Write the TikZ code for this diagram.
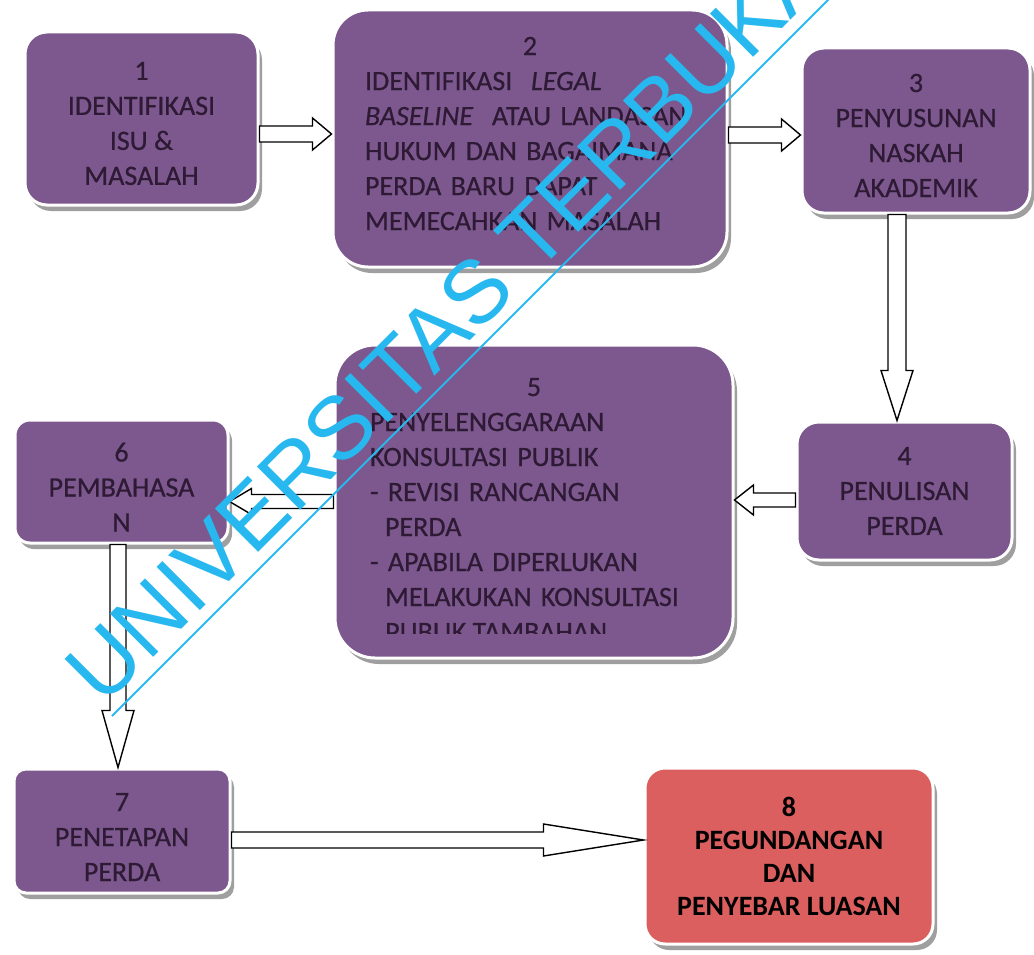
\documentclass[tikz,border=0pt]{standalone}
\usepackage{fontspec}
\setmainfont{Carlito}
\newfontfamily\boxfont{Carlito}[FakeBold=0.6]
\newfontfamily\wmfont{Liberation Sans}
\usetikzlibrary{calc,shadows}

\definecolor{plum}{RGB}{124,88,142}
\definecolor{rose}{RGB}{220,95,95}
\definecolor{ink}{RGB}{46,26,52}
\definecolor{sky}{RGB}{40,184,240}

\newcommand{\blockarr}[5]{%
  \coordinate (hb) at ($(#2)!#5!(#1)$);
  \draw[blk] ($(#1)!#3!90:(#2)$) -- ($(hb)!#3!90:(#2)$) -- ($(hb)!#4!90:(#2)$) -- (#2)
    -- ($(hb)!#4!-90:(#2)$) -- ($(hb)!#3!-90:(#2)$) -- ($(#1)!#3!-90:(#2)$) -- cycle;}

\begin{document}
\begin{tikzpicture}[x=1pt, y=-1pt,
  box/.style = {rectangle,draw=white,line width=3pt,fill=plum,text=ink,align=center,inner sep=0pt,
                font=\boxfont\fontsize{28}{35}\selectfont,
                drop shadow={shadow xshift=4pt,shadow yshift=-6pt,fill=black!75}},
  blk/.style = {draw=black,fill=white,line width=1.4pt,line join=miter},
  wm/.style = {text=sky,font=\wmfont\fontsize{89}{89}\selectfont,inner sep=0pt}]
\useasboundingbox (0,0) rectangle (1034,955);
\clip (0,0) rectangle (1034,955);
\node[box,rounded corners=22pt,minimum width=233pt,minimum height=173pt] (b1) at (141.5,118.5)
    {\rule{0pt}{28pt}1\\IDENTIFIKASI\\ISU \&\\MASALAH};
\node[box,rounded corners=35pt,minimum height=257pt,text width=330pt,inner xsep=32pt,align=left] (b2) at (530,138.5)
    {\makebox[\linewidth]{2}\\IDENTIFIKASI\ \ \textit{LEGAL}\\\textit{BASELINE}\ \ ATAU LANDASAN\\HUKUM DAN BAGAIMANA\\PERDA BARU DAPAT\\MEMECAHKAN MASALAH\rule[-10pt]{0pt}{10pt}};
\node[box,rounded corners=22pt,minimum width=228pt,minimum height=165pt] (b3) at (916,130.5)
    {\rule{0pt}{28pt}3\\PENYUSUNAN\\NASKAH\\AKADEMIK};
\node[box,rounded corners=22pt,minimum width=215pt,minimum height=138pt] (b4) at (904.5,491)
    {4\\PENULISAN\\PERDA};
\node[box,rounded corners=40pt,minimum height=313pt,text width=328pt,inner xsep=35pt,align=left] (b5) at (534,501.5)
    {\makebox[\linewidth]{\rule{0pt}{34pt}5}\\PENYELENGGARAAN\\KONSULTASI PUBLIK\\- REVISI RANCANGAN\\\hspace*{15pt}PERDA\\- APABILA DIPERLUKAN\\\hspace*{15pt}MELAKUKAN KONSULTASI\\\mbox{}};
\node[box,rounded corners=15pt,minimum width=213pt,minimum height=123pt] (b6) at (121.5,481.5)
    {\rule{0pt}{30pt}6\\PEMBAHASA\\N};
\node[box,rounded corners=12pt,minimum width=216pt,minimum height=124pt] (b7) at (122,831)
    {\rule{0pt}{30pt}7\\PENETAPAN\\PERDA};
\node[box,fill=rose,text=black,rounded corners=20pt,minimum width=288pt,minimum height=176pt,
      font=\fontsize{28}{33}\selectfont\bfseries] (b8) at (789,856)
    {8\\PEGUNDANGAN\\DAN\\PENYEBAR LUASAN};
\begin{scope}
\clip (335,600) rectangle (733,633);
\node[text=ink,font=\boxfont\fontsize{28}{35}\selectfont,inner sep=0pt,anchor=base west] (b5end) at (385,641) {PUBLIK TAMBAHAN};
\end{scope}
\coordinate (s12) at ([yshift=-15.5pt]b1.east);
\coordinate (e12) at (b2.west |- s12);
\coordinate (s23) at ([yshift=3.5pt]b2.east);
\coordinate (e23) at (b3.west |- s23);
\coordinate (s34) at ([xshift=-19pt]b3.south);
\coordinate (e34) at (s34 |- b4.north);
\coordinate (s45) at ([yshift=-9pt]b4.west);
\coordinate (e45) at (b5.east |- s45);
\coordinate (s56) at (b5.west);
\coordinate (e56) at (b6.east |- s56);
\coordinate (s67) at ([xshift=-3.5pt]b6.south);
\coordinate (e67) at (s67 |- b7.north);
\coordinate (s78) at ([yshift=-9pt]b7.east);
\coordinate (e78) at (b8.west |- s78);
\foreach \src/\dst/\sw/\hw/\hl in {s12/e12/8pt/16pt/19pt, s23/e23/8pt/16pt/19pt, s34/e34/9pt/16pt/50pt,
    s45/e45/7pt/15pt/19pt, s56/e56/7pt/13pt/22pt, s67/e67/8pt/16pt/57pt, s78/e78/8pt/16pt/100pt}
  {\blockarr{\src}{\dst}{\sw}{\hw}{\hl}}
\node[wm,rotate=45,anchor=base west] (wmark) at (103,708) {UNIVERSITAS TERBUKA};
\draw[sky,line width=1.8pt] (112,716) -- (840,-12);
\end{tikzpicture}
\end{document}
